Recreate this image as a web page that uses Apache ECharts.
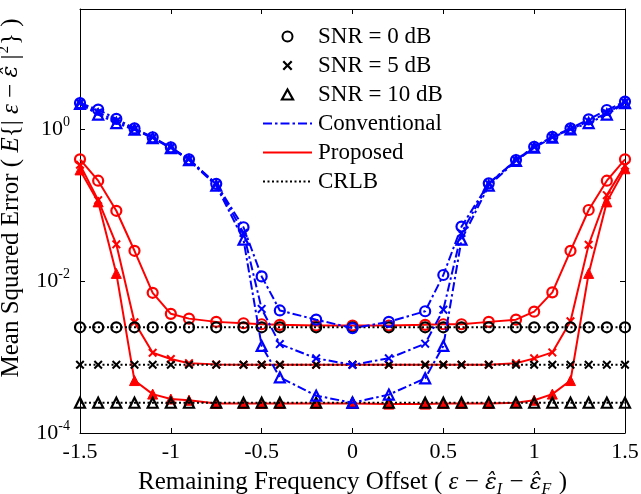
<!DOCTYPE html>
<html>
<head>
<meta charset="utf-8">
<script src="https://cdn.jsdelivr.net/npm/echarts@6/dist/echarts.min.js"></script>
<style>html,body{margin:0;padding:0;background:#fff}#c{width:641px;height:494px}</style>
</head>
<body>
<div id="c"></div>
<script>
// ---- data ----
const xValues = [-1.5,-1.4,-1.3,-1.2,-1.1,-1.0,-0.9,-0.75,-0.6,-0.5,-0.4,-0.2,0,0.2,0.4,0.5,0.6,0.75,0.9,1.0,1.1,1.2,1.3,1.4,1.5];
const xTicks = [-1.5,-1,-0.5,0,0.5,1,1.5];
const yTicks = [1e-4,1e-2,1];

const conv0  = [2.2,1.8,1.36,1.02,0.78,0.575,0.40,0.19,0.051,0.0115,0.0041,0.0031,0.0024,0.0029,0.0040,0.012,0.052,0.193,0.39,0.585,0.79,1.02,1.34,1.78,2.3];
const conv5  = [2.2,1.65,1.27,1.0,0.77,0.57,0.40,0.187,0.043,0.0043,0.00148,0.00096,0.00079,0.00096,0.0015,0.0042,0.043,0.19,0.39,0.58,0.78,1.0,1.26,1.62,2.25];
const conv10 = [2.15,1.55,1.2,0.98,0.76,0.56,0.39,0.18,0.035,0.0014,0.00054,0.00031,0.00025,0.00032,0.000525,0.0014,0.035,0.18,0.38,0.57,0.77,0.99,1.2,1.55,2.2];

const prop0  = [0.40,0.209,0.084,0.025,0.0070,0.0037,0.0032,0.0029,0.00278,0.0027,0.00265,0.0026,0.0026,0.0026,0.00265,0.0027,0.0027,0.0029,0.0031,0.00395,0.0071,0.025,0.086,0.209,0.40];
const prop5  = [0.34,0.116,0.0304,0.00287,0.00114,0.00094,0.00083,0.0008,0.00079,0.00079,0.00079,0.00079,0.00079,0.00079,0.00079,0.00079,0.00079,0.00079,0.00083,0.00096,0.00115,0.00296,0.030,0.135,0.33];
const prop10 = [0.29,0.11,0.0126,0.00049,0.000325,0.00028,0.00027,0.000245,0.000245,0.000245,0.000245,0.000245,0.000245,0.00024,0.00024,0.000245,0.000245,0.000245,0.00025,0.00027,0.000325,0.00049,0.0126,0.11,0.30];

const crlb0  = [0.00246,0.00246,0.00246,0.00246,0.00246,0.00246,0.00246,0.00246,0.00246,0.00246,0.00246,0.00246,0.00246,0.00246,0.00246,0.00246,0.00246,0.00246,0.00246,0.00246,0.00246,0.00246,0.00246,0.00246,0.00246];
const crlb5  = [0.00079,0.00079,0.00079,0.00079,0.00079,0.00079,0.00079,0.00079,0.00079,0.00079,0.00079,0.00079,0.00079,0.00079,0.00079,0.00079,0.00079,0.00079,0.00079,0.00079,0.00079,0.00079,0.00079,0.00079,0.00079];
const crlb10 = [0.00025,0.00025,0.00025,0.00025,0.00025,0.00025,0.00025,0.00025,0.00025,0.00025,0.00025,0.00025,0.00025,0.00025,0.00025,0.00025,0.00025,0.00025,0.00025,0.00025,0.00025,0.00025,0.00025,0.00025,0.00025];

const legendNames = ['SNR = 0 dB','SNR = 5 dB','SNR = 10 dB','Conventional','Proposed','CRLB'];

// ---- style ----
const FONT = 'Liberation Serif';
const HATFONT = 'DejaVu Serif';
const XPATH = 'path://M0,1.6L1.6,0L5,3.4L8.4,0L10,1.6L6.6,5L10,8.4L8.4,10L5,6.6L1.6,10L0,8.4L3.4,5Z';
const TRIPATH = 'path://M5,0L10,9L0,9Z';
const DASHDOT = [9,3,2.5,3];
const DOT = [2,2.5];
const markers = [
  {symbol:'circle', size:10},
  {symbol:XPATH, size:9},
  {symbol:'triangle', size:10}
];
const zip = arr => xValues.map((x,i)=>[x, arr[i]]);

function mk(name, arr, color, dash, m, z, filled) {
  const hollow = m.symbol !== XPATH && !filled;
  return {
    name, type:'line', data: zip(arr), z,
    symbol: m.symbol, symbolSize: m.size,
    lineStyle:{color, width:2, type: dash},
    itemStyle: hollow ? {color:'rgba(255,255,255,0)', borderColor:color, borderWidth:2.2}
                      : {color, borderColor:color, borderWidth: filled ? 1 : 0},
    emphasis:{disabled:true}, animation:false
  };
}

const series = [
  mk('p0', prop0, '#ff0000', 'solid', markers[0], 2),
  mk('p5', prop5, '#ff0000', 'solid', markers[1], 2),
  mk('p10', prop10, '#ff0000', 'solid', markers[2], 2, true),
  mk('c0', crlb0, '#000000', DOT, markers[0], 3),
  mk('c5', crlb5, '#000000', DOT, markers[1], 3),
  mk('c10', crlb10, '#000000', DOT, markers[2], 3),
  mk('v0', conv0, '#0000ff', DASHDOT, markers[0], 4),
  mk('v5', conv5, '#0000ff', DASHDOT, markers[1], 4),
  mk('v10', conv10, '#0000ff', DASHDOT, markers[2], 4),
  // legend-only entries
  {name:legendNames[0], type:'line', data:[], color:'#000'},
  {name:legendNames[1], type:'line', data:[], color:'#000'},
  {name:legendNames[2], type:'line', data:[], color:'#000'},
  {name:legendNames[3], type:'line', data:[], color:'#0000ff', symbol:'none', lineStyle:{width:2,type:DASHDOT}},
  {name:legendNames[4], type:'line', data:[], color:'#ff0000', symbol:'none', lineStyle:{width:2}},
  {name:legendNames[5], type:'line', data:[], color:'#000', symbol:'none', lineStyle:{width:2,type:DOT}}
];

const axisCommon = {
  axisLine:{show:true, onZero:false, lineStyle:{color:'#000', width:1}},
  axisTick:{show:true, inside:true, length:5, lineStyle:{color:'#000'}},
  splitLine:{show:false}
};

const option = {
  animation:false,
  backgroundColor:'#fff',
  textStyle:{fontFamily:FONT},
  grid:{left:80, right:16, top:9, bottom:61, containLabel:false, outerBoundsMode:'none'},
  legend:{
    orient:'vertical', left:262, top:25, padding:0,
    itemWidth:49, itemHeight:10, itemGap:6, selectedMode:false, symbolKeepAspect:true,
    textStyle:{fontFamily:FONT, fontSize:23, color:'#000', padding:[0,0,0,1]},
    data:[
      {name:legendNames[0], icon:'emptyCircle', itemStyle:{color:'#000'}},
      {name:legendNames[1], icon:XPATH, itemStyle:{color:'#000'}},
      {name:legendNames[2], icon:TRIPATH, itemStyle:{color:'#fff', borderColor:'#000', borderWidth:2.2}},
      {name:legendNames[3], itemStyle:{opacity:0}, lineStyle:{type:DASHDOT, width:2, color:'#0000ff'}},
      {name:legendNames[4], itemStyle:{opacity:0}, lineStyle:{type:'solid', width:2, color:'#ff0000'}},
      {name:legendNames[5], itemStyle:{opacity:0}, lineStyle:{type:DOT, width:2, color:'#000'}}
    ]
  },
  xAxis:[
    Object.assign({}, axisCommon, {
      type:'value', min:-1.5, max:1.5, interval:0.5, position:'bottom',
      axisLabel:{fontFamily:FONT, fontSize:22, color:'#000', margin:8, customValues:xTicks},
      name:'{n|Remaining Frequency Offset ( }{i|ε}{n| − }{h|ε̂}{sub|I}{n| − }{h|ε̂}{sub|F}{n| )}',
      nameLocation:'middle', nameGap:32,
      nameTextStyle:{fontFamily:FONT, fontSize:25, color:'#000',
        rich:{
          n:{fontFamily:FONT, fontSize:25, color:'#000'},
          i:{fontFamily:FONT, fontSize:25, fontStyle:'italic', color:'#000'},
          h:{fontFamily:HATFONT, fontSize:22, fontStyle:'italic', color:'#000'},
          sub:{fontFamily:FONT, fontSize:16, fontStyle:'italic', color:'#000', padding:[14,1,0,0], lineHeight:20}
        }}
    }),
    Object.assign({}, axisCommon, {
      type:'value', min:-1.5, max:1.5, interval:0.5, position:'top',
      axisLabel:{show:false}
    })
  ],
  yAxis:[
    Object.assign({}, axisCommon, {
      type:'log', logBase:10, min:1e-4, max:38, position:'left',
      axisTick:{show:true, inside:true, length:5, lineStyle:{color:'#000'}, customValues:yTicks},
      minorTick:{show:false},
      axisLabel:{customValues:yTicks, margin:10, color:'#000',
        formatter:function(v){ const e = Math.round(Math.log10(v)); return '{b|10}{s|' + e + '}'; },
        rich:{
          b:{fontFamily:FONT, fontSize:22, color:'#000'},
          s:{fontFamily:FONT, fontSize:14, color:'#000', padding:[0,0,14,0], lineHeight:18}
        }},
      name:'{n|Mean Squared Error ( }{i|E}{n|{| }{i|ε}{n| − }{h|ε̂}{n| |}{sup|2}} )',
      nameLocation:'middle', nameGap:47, nameRotate:90,
      nameTextStyle:{fontFamily:FONT, fontSize:25, color:'#000', padding:[0,0,0,46],
        rich:{
          n:{fontFamily:FONT, fontSize:25, color:'#000'},
          i:{fontFamily:FONT, fontSize:25, fontStyle:'italic', color:'#000'},
          h:{fontFamily:HATFONT, fontSize:22, fontStyle:'italic', color:'#000'},
          sup:{fontFamily:FONT, fontSize:15, color:'#000', padding:[0,1,14,1], lineHeight:20}
        }}
    }),
    Object.assign({}, axisCommon, {
      type:'log', logBase:10, min:1e-4, max:38, position:'right',
      axisTick:{show:true, inside:true, length:5, lineStyle:{color:'#000'}, customValues:yTicks},
      minorTick:{show:false},
      axisLabel:{show:false}
    })
  ],
  series
};

const chart = echarts.init(document.getElementById('c'), null, {renderer:'canvas'});
chart.setOption(option);
</script>
</body>
</html>
